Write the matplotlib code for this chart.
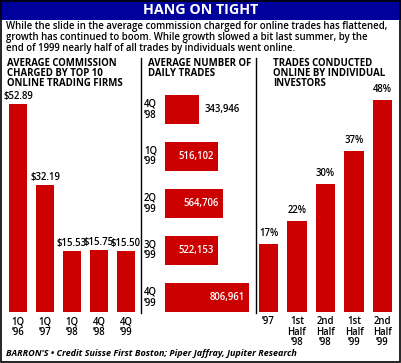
import matplotlib
matplotlib.use("Agg")
import matplotlib.pyplot as plt
from matplotlib.patches import Rectangle
from matplotlib.lines import Line2D

plt.rcParams['font.family'] = ['Open Sans', 'DejaVu Sans']

# ---- data ----
title = "HANG ON TIGHT"
subtitle = ["While the slide in the average commission charged for online trades has flattened,",
            "growth has continued to boom. While growth slowed a bit last summer, by the",
            "end of 1999 nearly half of all trades by individuals went online."]
footer = "BARRON'S \u2022 Credit Suisse First Boston; Piper Jaffray, Jupiter Research"

comm_header = ["AVERAGE COMMISSION", "CHARGED BY TOP 10", "ONLINE TRADING FIRMS"]
comm_periods = ["1Q\n\u201996", "1Q\n\u201997", "1Q\n\u201998", "4Q\n\u201998", "4Q\n\u201999"]
comm_values = [52.89, 32.19, 15.53, 15.75, 15.50]

trades_header = ["AVERAGE NUMBER OF", "DAILY TRADES"]
trades_periods = ["4Q\n\u201998", "1Q\n\u201999", "2Q\n\u201999", "3Q\n\u201999", "4Q\n\u201999"]
trades_values = [343946, 516102, 564706, 522153, 806961]

online_header = ["TRADES CONDUCTED", "ONLINE BY INDIVIDUAL", "INVESTORS"]
online_periods = ["\u201997", "1st\nHalf\n\u201998", "2nd\nHalf\n\u201998", "1st\nHalf\n\u201999", "2nd\nHalf\n\u201999"]
online_values = [17, 22, 30, 37, 48]

RED = '#CC0000'
BLUE = '#00009C'
W, H = 401, 363

fig = plt.figure(figsize=(W / 100, H / 100), dpi=100)
fig.patch.set_facecolor('white')


def fx(x):
    return x / W


def fy(y):
    return 1 - y / H


def px_axes(left, top, right, bottom):
    return fig.add_axes([fx(left), fy(bottom), (right - left) / W, (bottom - top) / H])


# title bar and border
fig.patches.append(Rectangle((0, fy(19.5)), 1, 19.5 / H, transform=fig.transFigure,
                             facecolor=BLUE, edgecolor='none', zorder=0))
fig.patches.append(Rectangle((fx(1), fy(362)), fx(399), 361 / H, transform=fig.transFigure,
                             facecolor='none', edgecolor='black', lw=1.2, zorder=5))
fig.text(0.5, fy(10.5), title, color='white', fontsize=10.3, fontweight='bold',
         ha='center', va='center')
for k, line in enumerate(subtitle):
    fig.text(fx(6), fy(27 + 10.5 * k), line, fontsize=6.95, fontweight='semibold',
             ha='left', va='center')

# headers
hdr_kw = dict(fontsize=6.9, fontweight='bold', ha='left', va='center')
for xh, lines in ((7, comm_header), (148, trades_header), (273, online_header)):
    for k, line in enumerate(lines):
        fig.text(fx(xh), fy(63.5 + 9.8 * k), line, **hdr_kw)

# separators
for xs in (141, 255.5):
    fig.lines.append(Line2D([fx(xs), fx(xs)], [fy(58), fy(312.5)], transform=fig.transFigure,
                            color='black', lw=1.0))

fig.text(fx(6), fy(353.5), footer, fontsize=6.5, fontweight='bold', style='italic',
         ha='left', va='center')

lab_kw = dict(fontsize=6.9, fontweight='semibold')

# ---- panel 1: commissions ----
ax1 = px_axes(4.5, 312 - 60 * 3.93, 139.5, 312)
x1 = range(len(comm_values))
ax1.bar(x1, comm_values, width=0.667, color=RED)
ax1.set_xlim(-0.5, len(comm_values) - 0.5)
ax1.set_ylim(0, 60)
for i, v in enumerate(comm_values):
    ax1.annotate(f"${v:.2f}", (i, v), xytext=(0, 1.5), textcoords='offset points',
                 ha='center', va='bottom', **lab_kw)
ax1.set_xticks(list(x1))
ax1.set_xticklabels(comm_periods, linespacing=0.95, **lab_kw)
ax1.tick_params(axis='x', length=0, pad=3)
ax1.set_yticks([])
for s in ax1.spines.values():
    s.set_visible(False)

# ---- panel 2: daily trades ----
x0 = 28700
scale = 1.08e-4
ax2 = px_axes(165, 86, 255, 321)
y2 = range(len(trades_values))
ax2.barh(y2, [v - x0 for v in trades_values], left=x0, height=0.617, color=RED)
ax2.set_xlim(x0, x0 + 90 / scale)
ax2.set_ylim(len(trades_values) - 0.5, -0.5)
for i, v in enumerate(trades_values):
    if v < 400000:
        ax2.annotate(f"{v:,}", (v, i), xytext=(4, 0), textcoords='offset points',
                     ha='left', va='center', color='black', **lab_kw)
    else:
        ax2.annotate(f"{v:,}", (v, i), xytext=(-3, 0), textcoords='offset points',
                     ha='right', va='center', color='white', **lab_kw)
    ax2.text(-21 / 90, i, trades_periods[i], transform=ax2.get_yaxis_transform(),
             ha='left', va='center', linespacing=1.0, **lab_kw)
ax2.set_xticks([])
ax2.set_yticks([])
for s in ax2.spines.values():
    s.set_visible(False)

# ---- panel 3: online share ----
base = 2.37
pps = 4.645
ax3 = px_axes(254.25, 60, 396.75, 312)
x3 = range(len(online_values))
ax3.bar(x3, [v - base for v in online_values], bottom=base, width=0.667, color=RED)
ax3.set_xlim(-0.5, len(online_values) - 0.5)
ax3.set_ylim(base, base + 252 / pps)
for i, v in enumerate(online_values):
    ax3.annotate(f"{v}%", (i, v), xytext=(0, 3.5), textcoords='offset points',
                 ha='center', va='bottom', **lab_kw)
ax3.set_xticks(list(x3))
ax3.set_xticklabels(online_periods, linespacing=0.95, va='top', **lab_kw)
ax3.tick_params(axis='x', length=0, pad=3)
ax3.set_yticks([])
for s in ax3.spines.values():
    s.set_visible(False)

fig.savefig('out.png', dpi=100)
